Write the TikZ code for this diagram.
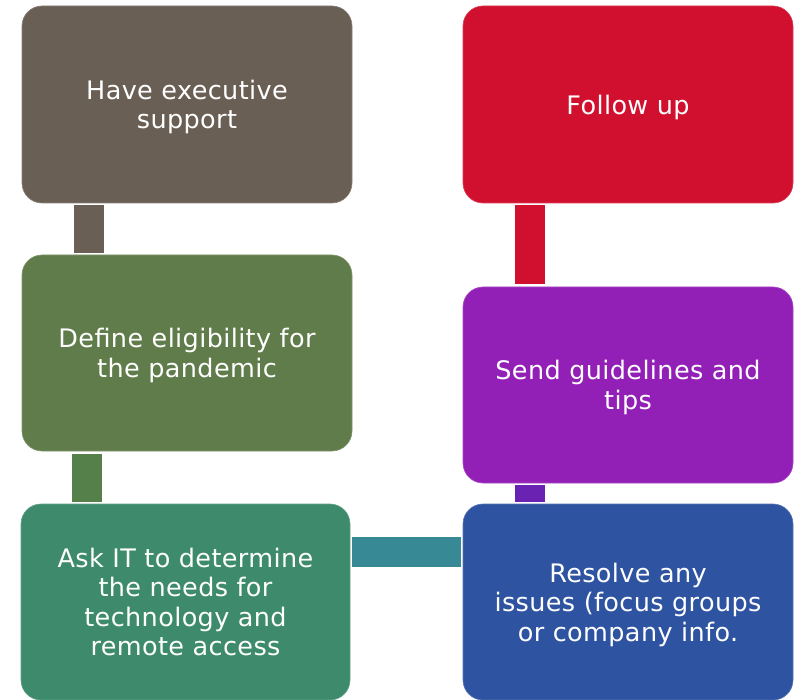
\documentclass[tikz,border=0pt]{standalone}
\usepackage{fontspec}
\setmainfont[LetterSpace=1.5]{DejaVu Sans}
\definecolor{cA}{HTML}{6A5F55}
\definecolor{cB}{HTML}{607C4A}
\definecolor{cBc}{HTML}{56804A}
\definecolor{cC}{HTML}{3D8B6C}
\definecolor{cCc}{HTML}{378996}
\definecolor{cD}{HTML}{2E53A0}
\definecolor{cDc}{HTML}{6A22B2}
\definecolor{cE}{HTML}{921FB6}
\definecolor{cF}{HTML}{D0102E}
\begin{document}
\begin{tikzpicture}[x=1pt,y=-1pt,
  box/.style={rectangle, rounded corners=20pt, minimum width=330pt, minimum height=197pt,
    inner sep=0pt, align=center, text=white, draw=#1!80!white, line width=0.6pt, fill=#1,
    text depth=0pt, font=\fontsize{25.5pt}{29.5pt}\selectfont},
  conn/.style={line width=30pt, line cap=butt, draw=#1}]
\useasboundingbox[fill=white] (0,0) rectangle (795,700);
\node[box=cA] (b1) at (187,104.5) {Have executive\\support};
\node[box=cB, minimum height=196pt] (b2) at (187,353) {Define eligibility for\\the pandemic};
\node[box=cC, minimum width=329pt, minimum height=196pt] (b3) at (185.5,602) {Ask IT to determine\\the needs for\\technology and\\remote access};
\node[box=cD, minimum height=196pt] (b4) at (628,602) {Resolve any\\issues (focus groups\\or company info.};
\node[box=cE, minimum height=196pt] (b5) at (628,385) {Send guidelines and\\tips};
\node[box=cF] (b6) at (628,104.5) {Follow up};
\draw[conn=cA, shorten <=2pt, shorten >=2pt] ([xshift=67pt]b1.south west) -- ([xshift=67pt]b2.north west);
\draw[conn=cBc, shorten <=3pt, shorten >=2pt] ([xshift=65.5pt]b2.south west) -- ([xshift=66.5pt]b3.north west);
\draw[conn=cCc, shorten <=2pt, shorten >=2pt] ([yshift=50pt]b3.east) -- ([yshift=50pt]b4.west);
\draw[conn=cDc, shorten <=2pt, shorten >=2pt] ([xshift=67pt]b5.south west) -- ([xshift=67pt]b4.north west);
\draw[conn=cF, shorten <=2pt, shorten >=3pt] ([xshift=67pt]b6.south west) -- ([xshift=67pt]b5.north west);
\end{tikzpicture}
\end{document}
